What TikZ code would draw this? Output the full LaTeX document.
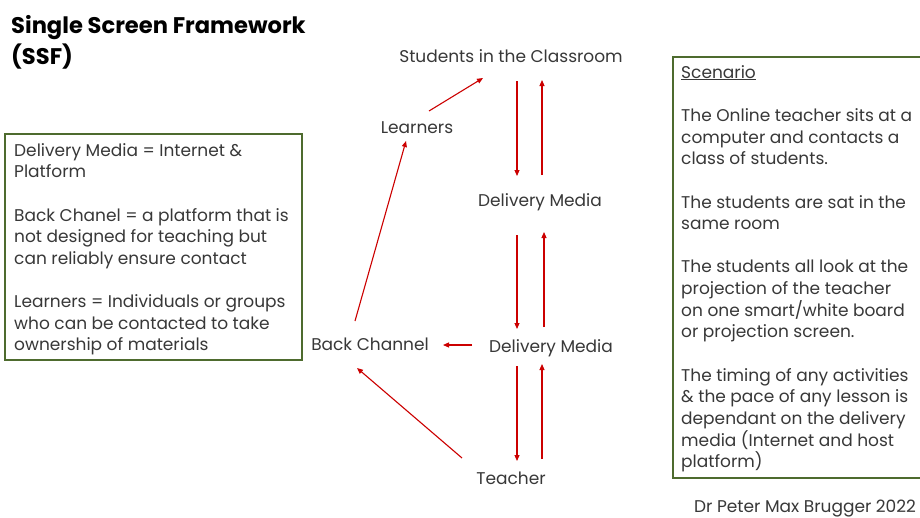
\documentclass[tikz,border=0pt]{standalone}
\usepackage{fontspec}
\setmainfont{Poppins}
\usetikzlibrary{arrows.meta,calc}
\definecolor{txt}{HTML}{383838}
\definecolor{arrred}{HTML}{CC0000}
\definecolor{boxgreen}{HTML}{4E6B2E}
\begin{document}
\begin{tikzpicture}[x=1pt,y=-1pt,
  lbl/.style={font=\fontsize{17}{21.65}\selectfont, text=txt, inner sep=0pt, text height=12pt, text depth=4pt},
  para/.style={font=\fontsize{17}{21.65}\selectfont, text=txt, inner sep=0pt, align=left, anchor=north west},
  arr/.style={draw=arrred, line width=1.1pt, -{Triangle[length=6pt,width=5pt]}},
  gbox/.style={draw=boxgreen, line width=2.5pt}]
\useasboundingbox (0,0) rectangle (920,517);
\fill[white] (0,0) rectangle (920,517);

% title
\node[anchor=north west, font=\bfseries\fontsize{22.6}{31}\selectfont, align=left, inner sep=0pt] (title) at (11,15) {Single Screen Framework\\(SSF)};

% boxes
\draw[gbox] (5,134) rectangle (302,360);
\node[para] (defs) at (14,143) {Delivery Media = Internet \&\\Platform\\[21.65pt]Back Chanel = a platform that is\\not designed for teaching but\\can reliably ensure contact\\[21.65pt]Learners = Individuals or groups\\who can be contacted to take\\ownership of materials};

\draw[gbox] (673,57) rectangle (930,478);
\node[para] (scen) at (681,65) {\underline{Scenario}\\[21.65pt]The Online teacher sits at a\\computer and contacts a\\class of students.\\[21.65pt]The students are sat in the\\same room\\[21.65pt]The students all look at the\\projection of the teacher\\on one smart/white board\\or projection screen.\\[21.65pt]The timing of any activities\\\& the pace of any lesson is\\dependant on the delivery\\media (Internet and host\\platform)};

\node[lbl, anchor=west] (sig) at (694,508) {Dr Peter Max Brugger 2022};

% diagram nodes
\node[lbl] (stu) at (511,58) {Students in the Classroom};
\node[lbl] (lrn) at (417,129) {Learners};
\node[lbl] (dm1) at (540,202) {Delivery Media};
\node[lbl] (dm2) at (551,348) {Delivery Media};
\node[lbl] (bc) at (370,346) {Back Channel};
\node[lbl] (tch) at (511,480) {Teacher};

% connectors
\draw[arr] ($(lrn)+(12,-18)$) -- ($(stu)+(-28,20)$);
\draw[arr] ($(stu)+(6,23)$) -- ($(dm1)+(-23,-26)$);
\draw[arr] ($(dm1)+(2,-27)$) -- ($(stu)+(31,22)$);
\draw[arr] ($(dm1)+(-23,33)$) -- ($(dm2)+(-34,-19)$);
\draw[arr] ($(dm2)+(-7,-21)$) -- ($(dm1)+(4,30)$);
\draw[arr] ($(dm2)+(-79,-3)$) -- ($(bc)+(73,-1)$);
\draw[arr] ($(bc)+(-15,-25)$) -- ($(lrn)+(-11,12)$);
\draw[arr] ($(dm2)+(-34,18)$) -- ($(tch)+(6,-19)$);
\draw[arr] ($(tch)+(31,-21)$) -- ($(dm2)+(-9,16)$);
\draw[arr] ($(tch)+(-49,-22)$) -- ($(bc)+(-13,22)$);
\end{tikzpicture}
\end{document}
